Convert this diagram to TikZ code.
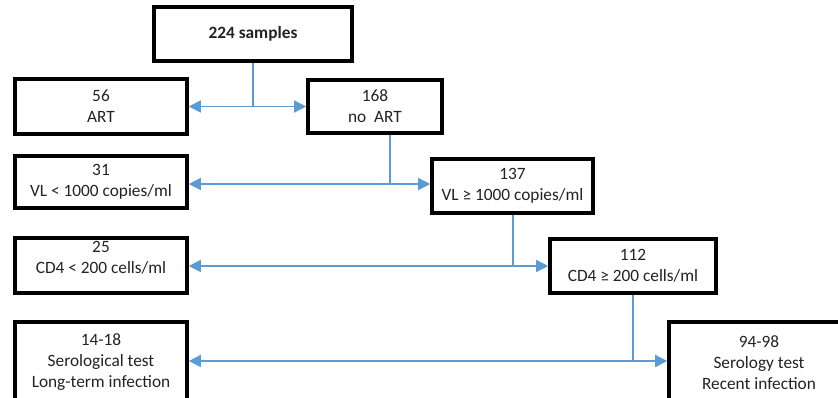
\documentclass[tikz,border=0pt]{standalone}
\usepackage{fontspec}
\setmainfont{Carlito}
\usetikzlibrary{arrows.meta,calc}
\definecolor{connblue}{RGB}{91,155,213}
\definecolor{txt}{RGB}{35,35,35}
\begin{document}
\begin{tikzpicture}[x=1pt,y=-1pt,
  box/.style={draw=black,line width=3.6pt,inner sep=0pt,align=center,text=txt,
    font=\fontsize{17.3}{21}\selectfont},
  lbl/.style={align=center,text=txt,font=\fontsize{17.3}{21}\selectfont,inner sep=0pt},
  conn/.style={draw=connblue,line width=1.5pt},
  tips/.style={{Triangle[length=12pt,width=12pt]}-{Triangle[length=12pt,width=12pt]}}]
\useasboundingbox (0,0) rectangle (838,397);
\clip (0,0) rectangle (838,397);
\fill[white] (0,0) rectangle (838,397);
% boxes
\node[box,minimum width=198pt,minimum height=54pt,font=\fontsize{17.3}{21}\selectfont\bfseries] (top) at (253,34) {224 samples};
\node[box,minimum width=172pt,minimum height=55pt] (art) at (101,106.5) {56\\ART};
\node[box,minimum width=134pt,minimum height=53pt] (noart) at (375,106.5) {168\\no\ \ ART};
\node[box,minimum width=172pt,minimum height=52pt] (vllow) at (101,182) {31\\VL < 1000 copies/ml};
\node[box,minimum width=161pt,minimum height=54pt] (vlhigh) at (512.5,186) {137\\VL ≥ 1000 copies/ml};
\node[box,minimum width=172pt,minimum height=55pt,label={[lbl,shift={(0,8pt)}]center:{25\\CD4 < 200 cells/ml}}] (cd4low) at (101,265.5) {};
\node[box,minimum width=166pt,minimum height=54pt] (cd4high) at (633,266) {112\\CD4 ≥ 200 cells/ml};
\node[box,minimum width=172pt,minimum height=99pt,label={[lbl,shift={(0,9pt)}]center:{14-18\\Serological test\\Long-term infection}}] (serolong) at (101,371.5) {};
\node[box,minimum width=180pt,minimum height=99pt,label={[lbl,shift={(0,9pt)}]center:{94-98\\Serology test\\Recent infection}}] (serorecent) at (759,371.5) {};
% junctions
\coordinate (j1) at (253,106.5);
\coordinate (j2) at (390,184);
\coordinate (j3) at (513,266);
\coordinate (j4) at (633,361);
% connectors
\draw[conn] (top.south) -- (j1);
\draw[conn,tips] (art.east) -- (noart.west);
\draw[conn] (noart.south -| j2) -- (j2);
\draw[conn,tips] (vllow.east |- j2) -- (vlhigh.west |- j2);
\draw[conn] (vlhigh.south -| j3) -- (j3);
\draw[conn,tips] (cd4low.east |- j3) -- (cd4high.west |- j3);
\draw[conn] (cd4high.south -| j4) -- (j4);
\draw[conn,tips] (serolong.east |- j4) -- (serorecent.west |- j4);
\end{tikzpicture}
\end{document}
